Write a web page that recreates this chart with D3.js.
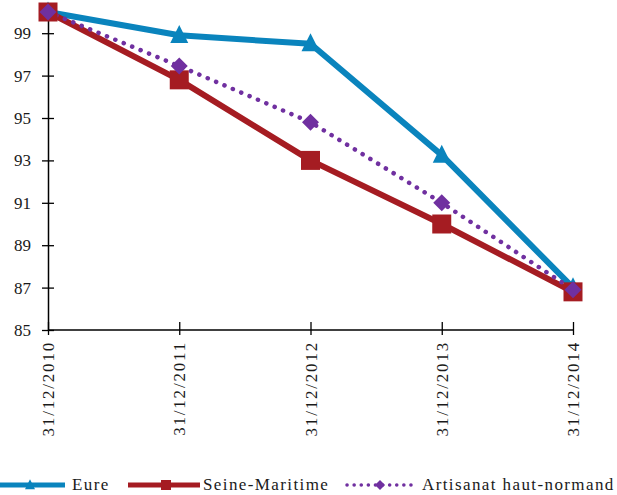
<!DOCTYPE html>
<html><head><meta charset="utf-8">
<script src="https://cdn.jsdelivr.net/npm/d3@7"></script>
<style>body{margin:0;background:#fff;}svg{display:block;}</style>
</head><body>
<svg id="c" width="617" height="495"></svg>
<script>
const categories = ["31/12/2010","31/12/2011","31/12/2012","31/12/2013","31/12/2014"];
const eure = [100, 98.9, 98.5, 93.25, 87.0];
const seineMaritime = [100, 96.8, 93.0, 90.0, 86.8];
const artisanat = [100, 97.45, 94.8, 91.0, 86.9];
const seriesNames = ["Eure","Seine-Maritime","Artisanat haut-normand"];
const yTicks = [85,87,89,91,93,95,97,99];

const svg = d3.select("#c");
const font = "'Liberation Serif', 'DejaVu Serif', serif";
const x = d3.scalePoint().domain(categories).range([48, 573]);
const y = d3.scaleLinear().domain([85, 100]).range([330, 12]);

const series = [
  {name: seriesNames[0], values: eure, color: "#0a84bd", marker: "triangle"},
  {name: seriesNames[1], values: seineMaritime, color: "#a51c22", marker: "square"},
  {name: seriesNames[2], values: artisanat, color: "#7030a0", marker: "diamond", dotted: true}
];

// axes
const yAxis = d3.axisLeft(y).tickValues(yTicks).tickSize(5).tickSizeOuter(0);
const gy = svg.append("g").attr("transform","translate(48,0)").call(yAxis);
gy.select(".domain").attr("stroke","#000").attr("stroke-width",1.5);
gy.selectAll(".tick line").attr("stroke","#000").attr("stroke-width",1.3).attr("x2",6).attr("x1",-6);
gy.selectAll(".tick text").attr("font-family",font).attr("font-size",17).attr("fill","#1a1a1a").attr("x",-17);

const xAxis = d3.axisBottom(x).tickSize(5).tickSizeOuter(0);
const gx = svg.append("g").attr("transform","translate(0,330)").call(xAxis);
gx.select(".domain").attr("stroke","#000").attr("stroke-width",1.5).attr("d","M48,0H573");
gx.selectAll(".tick line").attr("stroke","#000").attr("stroke-width",1.3).attr("y1",-8).attr("y2",5);
gx.selectAll(".tick text").attr("font-family",font).attr("font-size",17).attr("fill","#1a1a1a")
  .attr("letter-spacing","1.8px")
  .attr("transform","rotate(-90)").attr("text-anchor","end").attr("dy","0.33em").attr("x",-11).attr("y",0);

function markerPath(type, s){
  if(type==="triangle") return `M0,${-s*0.58}L${s/2},${s*0.42}L${-s/2},${s*0.42}Z`;
  if(type==="square") return `M${-s/2},${-s/2}h${s}v${s}h${-s}Z`;
  return `M0,${-s/2}L${s/2},0L0,${s/2}L${-s/2},0Z`;
}

const line = d3.line().x((d,i)=>x(categories[i])).y(d=>y(d));
series.forEach(s=>{
  const p = svg.append("path").datum(s.values).attr("d",line).attr("fill","none")
    .attr("stroke",s.color).attr("stroke-width", s.dotted?4.5:6).attr("stroke-linejoin","round");
  if(s.dotted) p.attr("stroke-dasharray","0.1 9").attr("stroke-linecap","round");
});
series.forEach(s=>{
  const size = s.marker==="square"?19:(s.marker==="triangle"?18:17);
  svg.append("g").selectAll("path").data(s.values).join("path")
    .attr("transform",(d,i)=>`translate(${x(categories[i])},${y(d)})`)
    .attr("d",markerPath(s.marker,size)).attr("fill",s.color);
});

// legend
const leg = [
  {s: series[0], x1: -5, x2: 65, mx: 30, tx: 72},
  {s: series[1], x1: 128, x2: 200, mx: 166, tx: 203},
  {s: series[2], x1: 347, x2: 417, mx: 380, tx: 422}
];
const ly = 485;
leg.forEach(l=>{
  const g = svg.append("g");
  const ln = g.append("line").attr("x1",l.x1).attr("x2",l.x2).attr("y1",ly).attr("y2",ly)
    .attr("stroke",l.s.color).attr("stroke-width",l.s.dotted?3.5:5);
  if(l.s.dotted) ln.attr("stroke-dasharray","0.1 7").attr("stroke-linecap","round");
  g.append("path").attr("transform",`translate(${l.mx},${ly})`)
    .attr("d",markerPath(l.s.marker, 10)).attr("fill",l.s.color);
  g.append("text").attr("x",l.tx).attr("y",ly).attr("dy","0.3em").attr("font-family",font)
    .attr("font-size",17).attr("letter-spacing","1.4px").attr("fill","#1a1a1a").text(l.s.name);
});
</script>
</body></html>
